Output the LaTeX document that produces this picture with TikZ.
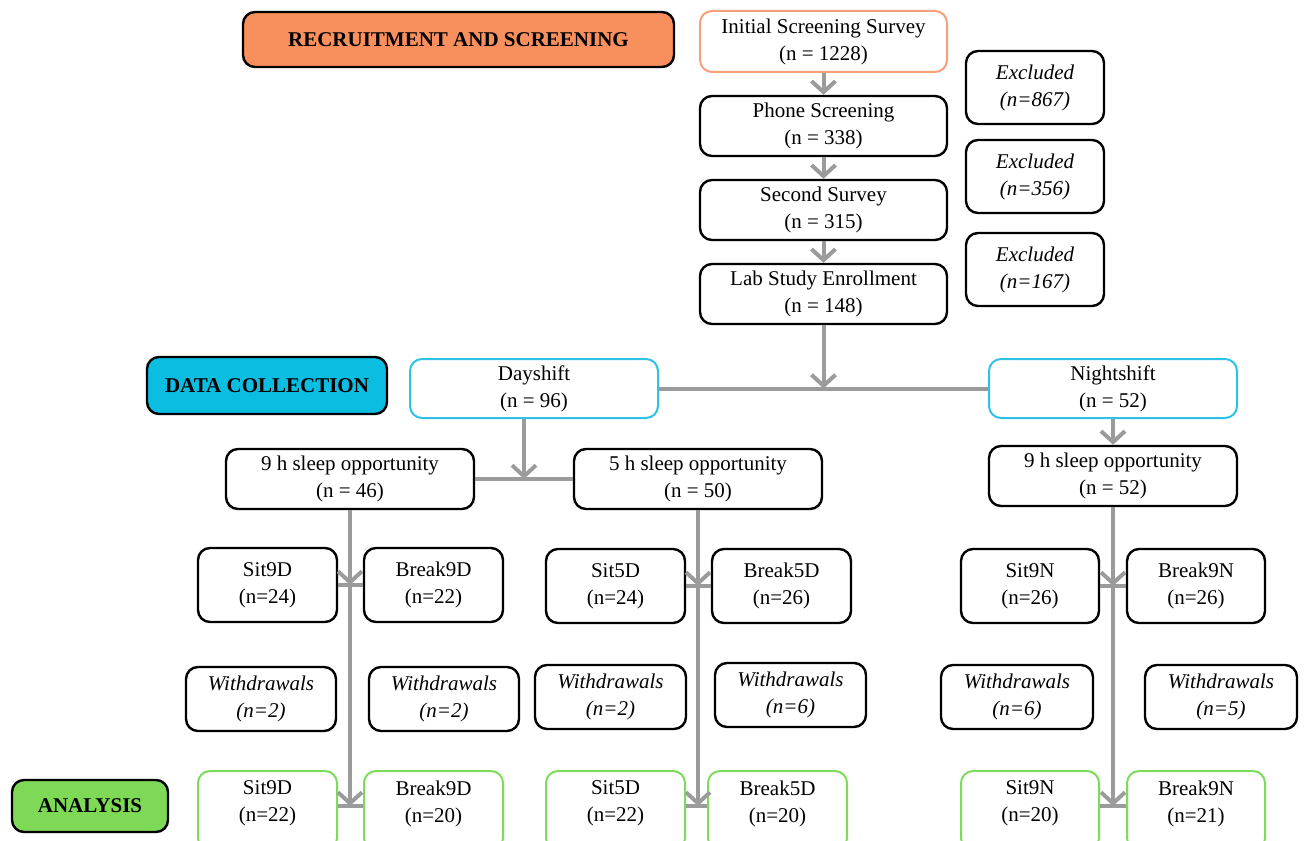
\documentclass[tikz,border=0pt]{standalone}
\usepackage{fontspec}
\setmainfont{Liberation Serif}
\usetikzlibrary{arrows.meta,calc}
\definecolor{orfill}{HTML}{F98F5D}
\definecolor{ordraw}{HTML}{F7A07C}
\definecolor{cyfill}{HTML}{0BBDE0}
\definecolor{cydraw}{HTML}{2EC3E6}
\definecolor{grfill}{HTML}{7ED957}
\definecolor{grdraw}{HTML}{7DDB5A}
\definecolor{conn}{HTML}{9B9B9B}
\newcommand\mybox[7]{%
  \pgfmathsetmacro\bw{(#4-#2)*0.5}\pgfmathsetmacro\bh{(#5-#3)*0.5}%
  \node[#6,minimum width=\bw pt,minimum height=\bh pt] (#1) at ({(#2+#4)/2},{(#3+#5)/2}) {#7};}
\tikzset{
  base/.style={rounded corners=6pt,align=center,inner sep=1pt,font=\fontsize{10.5}{13.5}\selectfont},
  bbox/.style={base,draw=black,line width=1.2pt,fill=white},
  obox/.style={base,draw=ordraw,line width=1pt,fill=white},
  cbox/.style={base,draw=cydraw,line width=1pt,fill=white},
  gbox/.style={base,draw=grdraw,line width=1pt,fill=white},
  head/.style={base,draw=black,line width=1.2pt,font=\fontsize{10.5}{13.5}\selectfont\bfseries},
  link/.style={draw=conn,line width=2pt},
  arr/.style={link,-{Straight Barb[length=5.5pt,width=12pt,line width=2pt]}},
}
\begin{document}
\begin{tikzpicture}[x=0.5pt,y=-0.5pt]
\useasboundingbox (0,0) rectangle (1304,840);
% headers
\mybox{hrec}{243}{12}{674}{67}{head,fill=orfill}{RECRUITMENT AND SCREENING}
\mybox{hdat}{147}{357}{387}{414}{head,fill=cyfill}{DATA COLLECTION}
\mybox{hana}{12}{780}{168}{832}{head,fill=grfill}{ANALYSIS}
% recruitment chain
\mybox{init}{700}{11}{947}{72}{obox}{Initial Screening Survey\\(n = 1228)}
\mybox{phone}{700}{96}{947}{156}{bbox}{Phone Screening\\(n = 338)}
\mybox{second}{700}{180}{947}{240}{bbox}{Second Survey\\(n = 315)}
\mybox{lab}{700}{264}{947}{324}{bbox}{Lab Study Enrollment\\(n = 148)}
\tikzset{wbox/.style={bbox,font=\fontsize{10.5}{13.5}\selectfont\itshape}}
\mybox{ex1}{966}{51}{1104}{124}{wbox}{Excluded\\(n=867)}
\mybox{ex2}{966}{140}{1104}{213}{wbox}{Excluded\\(n=356)}
\mybox{ex3}{966}{233}{1104}{306}{wbox}{Excluded\\(n=167)}
% shifts
\mybox{day}{410}{359}{658}{418}{cbox}{Dayshift\\(n = 96)}
\mybox{night}{989}{359}{1237}{418}{cbox}{Nightshift\\(n = 52)}
\mybox{hnined}{226}{449}{474}{509}{bbox}{9 h sleep opportunity\\(n = 46)}
\mybox{hfived}{574}{449}{822}{509}{bbox}{5 h sleep opportunity\\(n = 50)}
\mybox{hninen}{989}{446}{1237}{506}{bbox}{9 h sleep opportunity\\(n = 52)}
% groups
\mybox{sninD}{198}{548}{337}{622}{bbox}{Sit9D\\(n=24)}
\mybox{bninD}{364}{548}{503}{622}{bbox}{Break9D\\(n=22)}
\mybox{sfivD}{546}{549}{685}{623}{bbox}{Sit5D\\(n=24)}
\mybox{bfivD}{712}{549}{851}{623}{bbox}{Break5D\\(n=26)}
\mybox{sninN}{961}{549}{1099}{623}{bbox}{Sit9N\\(n=26)}
\mybox{bninN}{1127}{549}{1265}{623}{bbox}{Break9N\\(n=26)}
% withdrawals
\mybox{wa}{186}{667}{336}{731}{wbox}{Withdrawals\\(n=2)}
\mybox{wb}{369}{667}{519}{731}{wbox}{Withdrawals\\(n=2)}
\mybox{wc}{535}{665}{686}{729}{wbox}{Withdrawals\\(n=2)}
\mybox{wd}{715}{663}{866}{727}{wbox}{Withdrawals\\(n=6)}
\mybox{we}{941}{665}{1093}{729}{wbox}{Withdrawals\\(n=6)}
\mybox{wf}{1145}{665}{1297}{729}{wbox}{Withdrawals\\(n=5)}
% analysis (boxes run past the lower edge)
\tikzset{gtext/.style={gbox,text depth=9pt}}
\mybox{asninD}{198}{771}{337}{850}{gtext}{Sit9D\\(n=22)}
\mybox{abninD}{364}{771}{503}{850}{gtext}{Break9D\\(n=20)}
\mybox{asfivD}{546}{771}{685}{850}{gtext}{Sit5D\\(n=22)}
\mybox{abfivD}{708}{771}{847}{850}{gtext}{Break5D\\(n=20)}
\mybox{asninN}{961}{771}{1099}{850}{gtext}{Sit9N\\(n=20)}
\mybox{abninN}{1127}{771}{1265}{850}{gtext}{Break9N\\(n=21)}
% connectors
\draw[arr] (init.south) -- (phone.north);
\draw[arr] (phone.south) -- (second.north);
\draw[arr] (second.south) -- (lab.north);
\draw[link] (day.east) -- (night.west);
\draw[arr] (lab.south) -- (lab.south |- day.east);
\coordinate (dmid) at ($(hnined.east)!0.5!(hfived.west)$);
\draw[link] (hnined.east) -- (hfived.west);
\draw[arr] (dmid |- day.south) -- (dmid);
\draw[arr] (night.south) -- (hninen.north);
% 9D
\draw[link] (sninD.east) -- (bninD.west);
\draw[link] ([yshift=2.25pt]asninD.east) -- ([yshift=2.25pt]abninD.west);
\draw[arr] (hnined.south) -- (hnined.south |- sninD.east);
\draw[arr] (hnined.south |- sninD.east) -- ([yshift=2.25pt]hnined.south |- asninD.east);
% 5D
\draw[link] (sfivD.east) -- (bfivD.west);
\draw[link] ([yshift=2.25pt]asfivD.east) -- ([yshift=2.25pt]abfivD.west);
\draw[arr] (hfived.south) -- (hfived.south |- sfivD.east);
\draw[arr] (hfived.south |- sfivD.east) -- ([yshift=2.25pt]hfived.south |- asfivD.east);
% 9N
\draw[link] (sninN.east) -- (bninN.west);
\draw[link] ([yshift=2.25pt]asninN.east) -- ([yshift=2.25pt]abninN.west);
\draw[arr] (hninen.south) -- (hninen.south |- sninN.east);
\draw[arr] (hninen.south |- sninN.east) -- ([yshift=2.25pt]hninen.south |- asninN.east);
\end{tikzpicture}
\end{document}
